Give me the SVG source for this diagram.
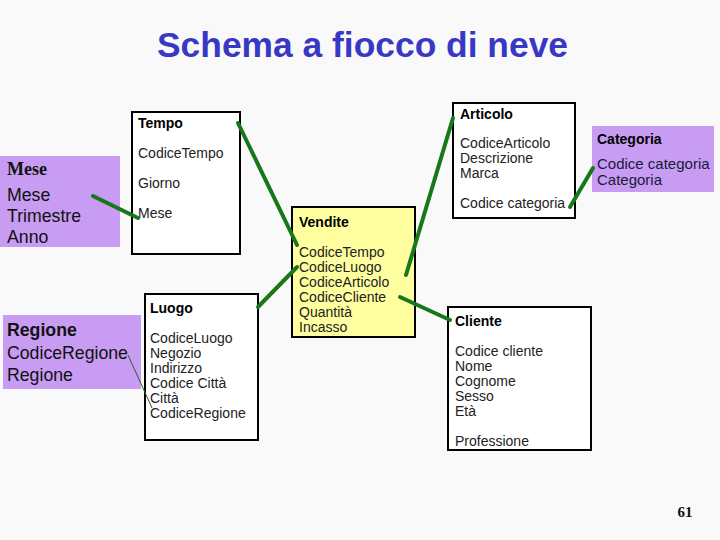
<svg xmlns="http://www.w3.org/2000/svg" width="720" height="540" viewBox="0 0 720 540">
<style>
.bg{fill:#f9f9f9}
.box{fill:#ffffff;stroke:#000;stroke-width:2}
.fact{fill:#ffff9f;stroke:#000;stroke-width:2}
.dim{fill:#c79cf2}
.t{font-family:"Liberation Sans",Arial,sans-serif;font-size:14px;fill:#222}
.h{font-family:"Liberation Sans",Arial,sans-serif;font-size:14px;font-weight:bold;fill:#000}
.ct{font-family:"Liberation Sans",Arial,sans-serif;font-size:15px;fill:#1a1a3a}
.p{font-family:"Liberation Sans",Arial,sans-serif;font-size:17.7px;fill:#111}
.pb{font-family:"Liberation Sans",Arial,sans-serif;font-size:17.7px;font-weight:bold;fill:#111}
.c{stroke:#16781a;stroke-width:4;stroke-linecap:round;fill:none}
.thin{stroke:#2a5a2a;stroke-width:1;fill:none}
.title{font-family:"Liberation Sans",Arial,sans-serif;font-size:35px;font-weight:bold}
</style>
<rect class="bg" x="0" y="0" width="720" height="540"/>
<text class="title" x="157" y="57" textLength="411" lengthAdjust="spacingAndGlyphs" fill="#3838c4">Schema a fiocco di neve</text>

<g id="mese">
<rect class="dim" x="0" y="156" width="120" height="91"/>
<text x="7" y="175" font-family="'Liberation Serif','Times New Roman',serif" font-size="18" font-weight="bold" fill="#111">Mese</text>
<text class="p" x="7" y="201">Mese</text>
<text class="p" x="7" y="222">Trimestre</text>
<text class="p" x="7" y="243">Anno</text>
</g>

<g id="tempo">
<rect class="box" x="132" y="112" width="108" height="142"/>
<text class="h" x="138" y="128">Tempo</text>
<text class="t" x="138" y="158">CodiceTempo</text>
<text class="t" x="138" y="188">Giorno</text>
<text class="t" x="138" y="218">Mese</text>
</g>

<g id="regione">
<rect class="dim" x="3" y="315" width="138" height="74"/>
<text class="pb" x="7" y="336">Regione</text>
<text class="p" x="7" y="359">CodiceRegione</text>
<text class="p" x="7" y="381">Regione</text>
</g>

<g id="luogo">
<rect class="box" x="145" y="294" width="113" height="146"/>
<text class="h" x="150" y="313">Luogo</text>
<text class="t" x="150" y="343">CodiceLuogo</text>
<text class="t" x="150" y="358">Negozio</text>
<text class="t" x="150" y="373">Indirizzo</text>
<text class="t" x="150" y="388">Codice Città</text>
<text class="t" x="150" y="403">Città</text>
<text class="t" x="150" y="418">CodiceRegione</text>
</g>

<g id="vendite">
<rect class="fact" x="292" y="207" width="123" height="130"/>
<text class="h" x="299" y="227">Vendite</text>
<text class="t" x="299" y="257">CodiceTempo</text>
<text class="t" x="299" y="272">CodiceLuogo</text>
<text class="t" x="299" y="287">CodiceArticolo</text>
<text class="t" x="299" y="302">CodiceCliente</text>
<text class="t" x="299" y="317">Quantità</text>
<text class="t" x="299" y="332">Incasso</text>
</g>

<g id="articolo">
<rect class="box" x="453" y="103" width="122" height="115"/>
<text class="h" x="460" y="119">Articolo</text>
<text class="t" x="460" y="148">CodiceArticolo</text>
<text class="t" x="460" y="163">Descrizione</text>
<text class="t" x="460" y="178">Marca</text>
<text class="t" x="460" y="208">Codice categoria</text>
</g>

<g id="categoria">
<rect class="dim" x="592" y="126" width="122" height="66"/>
<text class="h" x="597" y="144" fill="#111">Categoria</text>
<text class="ct" x="597" y="169">Codice categoria</text>
<text class="ct" x="597" y="185">Categoria</text>
</g>

<g id="cliente">
<rect class="box" x="448" y="307" width="143" height="143"/>
<text class="h" x="455" y="326">Cliente</text>
<text class="t" x="455" y="356">Codice cliente</text>
<text class="t" x="455" y="371">Nome</text>
<text class="t" x="455" y="386">Cognome</text>
<text class="t" x="455" y="401">Sesso</text>
<text class="t" x="455" y="416">Età</text>
<text class="t" x="455" y="446">Professione</text>
</g>

<g id="connectors">
<line class="c" x1="93" y1="196" x2="138" y2="218"/>
<line class="thin" x1="128" y1="355" x2="152" y2="408"/>
<line class="c" x1="238" y1="123" x2="297" y2="245"/>
<line class="c" x1="258" y1="307" x2="297" y2="267"/>
<line class="c" x1="453" y1="118" x2="406" y2="275"/>
<line class="c" x1="400" y1="297" x2="450" y2="320"/>
<line class="c" x1="570" y1="207" x2="593" y2="168"/>
</g>

<text x="685" y="517" text-anchor="middle" font-family="'Liberation Serif','Times New Roman',serif" font-size="15" font-weight="bold" fill="#111">61</text>
</svg>
